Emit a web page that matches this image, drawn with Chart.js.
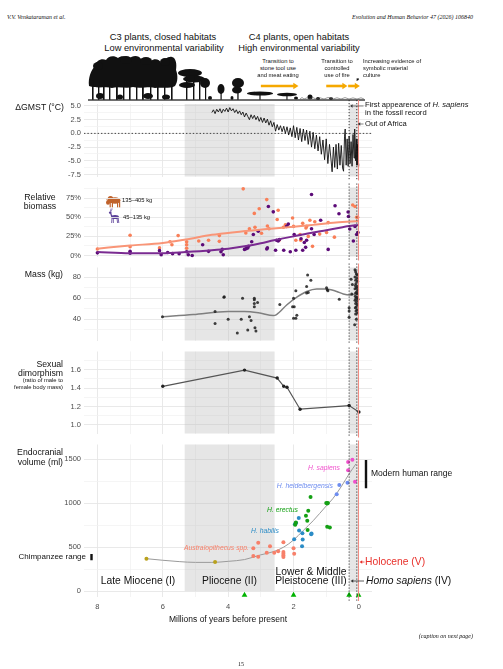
<!DOCTYPE html>
<html>
<head>
<meta charset="utf-8">
<script src="https://cdn.jsdelivr.net/npm/chart.js@4.4.0/dist/chart.umd.min.js"></script>
<style>
  body { margin: 0; background: #fff; }
  #page { position: relative; width: 503px; height: 669px; overflow: hidden; background: #fff;
          font-family: 'Liberation Sans', Arial, Helvetica, sans-serif; color: #111; }
  #page canvas { position: absolute; left: 0; z-index: 1; }
  #art { position: absolute; left: 0; top: 0; z-index: 0; }
  .t { position: absolute; white-space: nowrap; line-height: 1; z-index: 2; }
</style>
</head>
<body>
<div id="page">
  <!-- vegetation silhouette + legend animals (illustration only) -->
  <svg id="art" width="503" height="669" viewBox="0 0 503 669">
    <g fill="#111">
      <path d="M89,86 C88,78 91,70 95,66 C96,60 102,58 106,60 C108,56 114,55 118,58 C121,55 127,56 129,59
               C132,55 139,55 141,59 C145,57 150,58 151,61 C154,58 160,59 161,63 C164,60 168,56 172,57
               C176,58 177,64 176,70 C178,75 178,82 175,86 C170,89 160,87 155,88 C150,86 140,89 133,87
               C126,89 118,86 112,88 C106,86 98,89 89,86 Z"/>
      <ellipse cx="98" cy="66" rx="5" ry="4"/><ellipse cx="126" cy="60" rx="6" ry="4"/>
      <ellipse cx="146" cy="61" rx="6" ry="4"/><ellipse cx="165" cy="62" rx="5" ry="4"/>
      <rect x="92" y="80" width="1.6" height="20"/><rect x="98" y="80" width="1.4" height="20"/>
      <rect x="103" y="80" width="1.6" height="20"/><rect x="109" y="80" width="1.4" height="20"/>
      <rect x="116" y="80" width="1.8" height="20"/><rect x="123" y="80" width="1.4" height="20"/>
      <rect x="129" y="80" width="1.6" height="20"/><rect x="136" y="80" width="1.4" height="20"/>
      <rect x="142" y="80" width="1.8" height="20"/><rect x="150" y="80" width="1.4" height="20"/>
      <rect x="157" y="80" width="1.6" height="20"/><rect x="164" y="80" width="1.4" height="20"/>
      <rect x="171" y="76" width="1.6" height="24"/>
      <ellipse cx="100" cy="96" rx="4" ry="3"/><ellipse cx="120" cy="97" rx="3" ry="2.5"/>
      <ellipse cx="148" cy="96" rx="5" ry="3"/><ellipse cx="166" cy="97" rx="4" ry="2.5"/>
      <ellipse cx="190" cy="73" rx="12" ry="4"/><ellipse cx="194" cy="79" rx="11" ry="3.5"/>
      <ellipse cx="187" cy="85" rx="8" ry="3"/><ellipse cx="205" cy="83" rx="5" ry="5"/>
      <rect x="186" y="76" width="1.4" height="24"/><rect x="193" y="76" width="1.4" height="24"/>
      <rect x="199" y="80" width="1.4" height="20"/><rect x="205" y="84" width="1.2" height="16"/>
      <ellipse cx="221" cy="89" rx="3.5" ry="5"/><rect x="220.5" y="90" width="1.2" height="10"/>
      <ellipse cx="238" cy="83" rx="6" ry="5"/><ellipse cx="237" cy="90" rx="5" ry="3.5"/>
      <rect x="237.3" y="86" width="1.3" height="14"/>
      <ellipse cx="260" cy="93.5" rx="13" ry="2"/><rect x="259.4" y="93.5" width="1.2" height="6.5"/>
      <ellipse cx="287" cy="94.5" rx="10" ry="1.8"/><rect x="286.4" y="94.5" width="1.1" height="5.5"/>
      <ellipse cx="210" cy="98" rx="2" ry="2"/><ellipse cx="232" cy="98" rx="1.5" ry="2"/>
      <ellipse cx="296" cy="98" rx="2" ry="1.5"/><ellipse cx="310" cy="97" rx="2.5" ry="2.5"/>
      <ellipse cx="318" cy="98.5" rx="2" ry="1.5"/><ellipse cx="331" cy="98.6" rx="2" ry="1.3"/>
      <rect x="88" y="99.3" width="277" height="1.4" fill="#333"/>
    </g>
    <polyline fill="none" stroke="#555" stroke-width="0.6"
      points="300,99 302,97.5 304,99 307,97.8 309,99 313,97.6 316,99 320,97.8 324,99 328,97.5 333,99 337,97.8 341,99 345,97.6 349,99 353,97.9 357,99 361,97.8 364,99"/>
    <g fill="#c0622b">
      <ellipse cx="115" cy="200.5" rx="5.5" ry="3.3"/><ellipse cx="110.5" cy="199.5" rx="3" ry="3.6"/>
      <ellipse cx="108" cy="202.5" rx="2" ry="2.2"/>
      <rect x="109.6" y="202" width="1.2" height="6"/><rect x="111.8" y="202" width="1.2" height="6"/>
      <rect x="117" y="202" width="1.2" height="6"/><rect x="119" y="202" width="1.2" height="6"/>
      <path d="M107.2,201 L106,198.2 L107.8,200.4 Z"/>
    </g>
    <g fill="#5a3f98" stroke="#5a3f98">
      <ellipse cx="115" cy="217" rx="4" ry="2" stroke="none"/>
      <path d="M111.8,216.5 L110.6,213" stroke-width="1.2" fill="none"/>
      <ellipse cx="110.2" cy="212.8" rx="1.4" ry="1" stroke="none"/>
      <path d="M110,212 L111.2,208.3 M110.7,212 L112.4,208.6" stroke-width="0.6" fill="none"/>
      <path d="M112,218 L111.6,223 M113.3,218 L113.4,223 M117,218 L117.6,223 M118.2,218 L118.8,223" stroke-width="0.8" fill="none"/>
    </g>
  </svg>
</div>
<script>
// ---------------- data ----------------
// ages in millions of years before present
const xTicks = [0, 1, 2, 3, 4, 5, 6, 7, 8];
const xLabels = [0, 2, 4, 6, 8];

const greyBands = [[5.33, 2.58], [0.3, 0.0117]];      // Pliocene, Homo sapiens
const sapiensAge = 0.3;
const outOfAfricaAge = 0.065;
const holoceneAge = 0.0117;
const triangleAges = [3.5, 2.0, 0.3, 0.0117];
const toolArrows = [[3.0, 1.85], [1.0, 0.35], [0.33, -0.03]];

// Global mean surface temperature anomaly
const gmstTicks = [-7.5, -5, -2.5, 0, 2.5, 5];
const gmstMinor = [-6.25, -3.75, -1.25, 1.25, 3.75];
const gmst = [
  [4.50, 3.8], [4.45, 4.3], [4.40, 3.6], [4.35, 4.4], [4.30, 3.9], [4.25, 4.5], [4.20, 3.7],
  [4.15, 4.4], [4.10, 4.0], [4.05, 4.6], [4.00, 3.9], [3.95, 4.7], [3.90, 4.1], [3.85, 4.5],
  [3.80, 3.8], [3.75, 4.3], [3.70, 3.6], [3.65, 4.1], [3.60, 3.4], [3.55, 3.9], [3.50, 3.0],
  [3.45, 3.7], [3.40, 3.1], [3.35, 2.5], [3.30, 3.4], [3.25, 2.7], [3.20, 3.3], [3.15, 2.5],
  [3.10, 3.1], [3.05, 2.2], [3.00, 2.9], [2.95, 2.0], [2.90, 2.8], [2.85, 1.9], [2.80, 2.6],
  [2.75, 1.5], [2.70, 2.3], [2.65, 1.2], [2.60, 2.0], [2.55, 0.4], [2.50, 1.6], [2.45, 0.6],
  [2.40, 1.4], [2.35, 0.3], [2.30, 1.3], [2.25, 0.0], [2.20, 1.2], [2.15, -0.3], [2.10, 1.0],
  [2.05, -0.6], [2.00, 1.4], [1.95, -0.8], [1.90, 1.1], [1.85, -1.2], [1.80, 0.9], [1.75, -1.5],
  [1.70, 0.8], [1.65, -1.3], [1.60, 0.6], [1.55, -2.0], [1.50, 0.4], [1.45, -2.5], [1.40, 0.2],
  [1.35, -2.8], [1.30, -0.3], [1.25, -3.2], [1.20, -0.6], [1.15, -3.8], [1.10, -1.2], [1.05, -4.8],
  [1.00, -1.0], [0.95, -5.5], [0.90, -2.0], [0.85, -5.0], [0.82, -7.0], [0.78, -2.5], [0.74, -6.2],
  [0.70, -2.0], [0.66, -6.5], [0.62, -1.8], [0.58, -5.8], [0.54, -2.2], [0.50, -6.3], [0.47, -6.9],
  [0.44, -0.5], [0.42, 0.8], [0.39, -5.8], [0.36, -1.0], [0.33, -6.0], [0.30, -0.5], [0.27, -5.5],
  [0.24, -1.5], [0.21, -6.0], [0.18, -0.2], [0.15, -4.5], [0.13, 0.8], [0.10, -5.0], [0.08, -1.0],
  [0.06, -5.8], [0.04, -2.0], [0.02, -5.5], [0.01, -6.0]
];

// Relative biomass (%)
const biomassTicks = [0, 25, 50, 75];
const biomassMinor = [12.5, 37.5, 62.5, 87.5];
const biomassLarge = [
  [8.0, 8.5], [7.0, 26.5], [7.0, 11.5], [6.1, 10], [5.78, 18], [5.72, 14], [5.53, 26], [5.27, 18],
  [5.27, 14], [5.27, 9.5], [4.9, 19], [4.6, 20], [4.27, 26], [4.27, 18.5], [3.54, 87], [3.46, 29.5],
  [3.35, 35], [3.2, 55], [3.18, 37], [3.05, 61], [2.98, 29], [2.82, 73], [2.8, 38.5], [2.75, 35],
  [2.47, 59], [2.5, 47], [2.44, 20], [2.31, 37], [2.25, 40], [2.03, 49], [2.0, 38], [1.93, 20],
  [1.8, 27.5], [1.78, 20], [1.72, 42], [1.62, 36], [1.6, 38], [1.55, 25], [1.5, 46], [1.42, 12],
  [1.35, 44], [1.2, 28], [0.99, 30], [0.94, 43], [0.75, 24], [0.19, 66], [0.12, 64], [0.07, 50],
  [0.04, 50]
];
const biomassSmall = [
  [8.0, 3.5], [7.0, 5.5], [7.0, 3], [6.1, 6.4], [6.05, 1], [5.85, 4], [5.7, 2.5], [5.5, 2.5],
  [5.27, 5], [5.22, 1], [5.1, 0], [4.78, 14], [4.6, 5.5], [4.22, 5], [4.18, 8], [4.15, 1],
  [3.5, 8], [3.45, 9], [3.4, 10], [3.38, 12], [3.28, 18], [3.23, 27.5], [3.08, 31.7], [2.82, 8.5],
  [2.77, 64], [2.62, 57], [2.8, 10], [2.55, 7], [2.52, 20], [2.47, 19], [2.43, 21], [2.3, 7],
  [2.21, 38], [2.16, 41], [2.1, 5], [1.98, 27.5], [1.93, 7], [1.77, 22], [1.72, 7], [1.67, 17],
  [1.63, 10.7], [1.6, 20], [1.45, 79.6], [1.45, 35], [1.37, 27.5], [1.17, 46], [0.94, 8],
  [0.73, 65], [0.61, 54.6], [0.33, 56.7], [0.32, 51], [0.28, 34.6], [0.17, 19], [0.12, 38],
  [0.07, 27.5], [0.03, 30]
];
const biomassLargeTrend = [[8, 9], [7, 13], [6, 16.5], [5.3, 21], [4.5, 27], [3.8, 30.5], [2.8, 34.5],
  [2, 37.5], [1.4, 40], [0.7, 43], [0, 45]];
const biomassSmallTrend = [[8, 4.5], [7, 3], [6, 3], [5.3, 4.6], [4.5, 7], [4, 9], [3.5, 12], [3, 16],
  [2.6, 20], [2, 25], [1.4, 30], [1, 33], [0.5, 37], [0, 40]];

// Body mass (kg)
const massTicks = [40, 60, 80];
const massMinor = [30, 50, 70];
const massPoints = [
  [6.01, 42.5], [4.4, 47.5], [4.4, 36], [4.13, 61], [4.12, 61.5], [4.0, 40], [3.72, 27], [3.6, 40],
  [3.56, 60], [3.4, 30], [3.35, 42.5], [3.3, 39], [3.2, 60], [3.2, 58.5], [3.2, 55], [3.2, 52],
  [3.18, 32], [3.15, 29], [3.1, 56], [2.42, 54], [2.0, 60], [2.03, 52], [1.98, 52], [2.0, 41],
  [1.93, 41], [1.93, 67], [1.9, 44], [1.57, 82], [1.47, 77], [1.6, 71], [1.6, 65], [1.55, 65.5],
  [0.99, 70], [0.97, 68], [0.95, 67], [0.6, 59], [0.3, 51], [0.3, 48], [0.3, 42], [0.24, 78],
  [0.2, 73], [0.22, 64], [0.12, 87], [0.1, 85], [0.08, 83], [0.05, 82], [0.12, 80], [0.06, 79],
  [0.1, 77], [0.04, 76], [0.09, 74], [0.11, 72], [0.05, 71], [0.08, 70], [0.12, 69], [0.04, 68],
  [0.07, 66], [0.1, 65], [0.05, 64], [0.11, 62], [0.06, 61], [0.09, 60], [0.03, 59], [0.12, 58],
  [0.07, 57], [0.1, 55], [0.05, 54], [0.08, 52], [0.11, 51], [0.06, 49], [0.09, 48], [0.04, 46],
  [0.1, 45], [0.08, 40], [0.13, 35]
];
const massTrend = [[6.0, 42.5], [5.07, 44.5], [4.0, 47.5], [3.5, 47.5], [3.03, 46], [2.62, 43.6],
  [2.52, 44.5], [2.21, 53.6], [1.9, 61], [1.6, 66.4], [1.29, 68.8], [1.0, 68.8], [0.68, 66.4],
  [0.48, 64], [0.28, 63], [0.0, 65]];

// Sexual dimorphism (male / female body mass)
const dimorphTicks = [1.0, 1.2, 1.4, 1.6];
const dimorphMinor = [1.1, 1.3, 1.5, 1.7];
const dimorphPoints = [[6.0, 1.42], [3.5, 1.597], [2.5, 1.51], [2.3, 1.42], [2.2, 1.41],
  [1.8, 1.17], [0.3, 1.21], [0.0, 1.14]];

// Endocranial volume (ml)
const ecvTicks = [0, 500, 1000, 1500];
const ecvMinor = [250, 750, 1250];
const earlyHominins = [[6.5, 368], [4.4, 330]];
const australopiths = [[3.23, 488], [3.08, 548], [3.23, 398], [3.08, 390], [2.82, 436], [2.72, 510],
  [2.59, 436], [2.47, 453], [2.31, 555], [2.31, 443], [2.31, 425], [2.31, 405], [2.31, 387],
  [2.0, 488], [1.98, 424]];
const habilis = [[1.96, 760], [1.92, 775], [1.84, 830], [1.83, 690], [1.73, 657], [1.98, 590],
  [1.72, 585], [1.74, 510], [1.45, 655], [1.46, 645]];
const erectus = [[1.48, 1070], [1.0, 1000], [0.95, 1000], [0.97, 995], [1.55, 912], [1.62, 856],
  [1.58, 800], [1.93, 780], [1.95, 755], [1.57, 695], [0.97, 732], [0.89, 722]];
const heidelbergensis = [[0.6, 1205], [0.68, 1100], [0.35, 1231]];
const sapiens = [[0.33, 1467], [0.2, 1494], [0.33, 1373], [0.12, 1242]];
const ecvTrend = [[6.5, 368], [6, 350], [5.5, 335], [5, 326], [4.5, 326], [4, 338], [3.5, 358],
  [3, 412], [2.6, 450], [2.3, 500], [2, 580], [1.7, 690], [1.4, 800], [1.0, 968], [0.8, 1050],
  [0.53, 1194], [0.28, 1344], [0.09, 1446]];
const chimpRange = [350, 420];
const modernHumanRange = [1170, 1490];

// ---------------- layout ----------------
const PAGE_W = 503, AREA_L = 84, AREA_R = 372;
const X_MIN = -0.4, X_MAX = 8.41;
const BAND_FILL = 'rgba(180,180,180,0.33)';
const page = document.getElementById('page');
Chart.defaults.font.family = "'Liberation Sans', Arial, Helvetica, sans-serif";

const pts = arr => arr.map(([x, y]) => ({ x, y }));

function txt(html, x, y, o = {}) {
  const d = document.createElement('div');
  d.className = 't';
  d.innerHTML = html;
  d.style.left = x + 'px';
  d.style.top = y + 'px';
  d.style.fontSize = (o.size || 9) + 'px';
  const tx = o.align === 'right' ? '-100%' : o.align === 'center' ? '-50%' : '0';
  d.style.transform = `translate(${tx}, -50%)`;
  if (o.color) d.style.color = o.color;
  if (o.italic) d.style.fontStyle = 'italic';
  if (o.serif) d.style.fontFamily = "'Liberation Serif', 'DejaVu Serif', serif";
  page.appendChild(d);
}

function arrow(ctx, x1, y1, x2, y2, color, w, head, spread) {
  const ang = Math.atan2(y2 - y1, x2 - x1);
  ctx.save();
  ctx.setLineDash([]);
  ctx.strokeStyle = color; ctx.fillStyle = color; ctx.lineWidth = w;
  ctx.beginPath();
  ctx.moveTo(x1, y1);
  ctx.lineTo(x2 - Math.cos(ang) * head * 0.7, y2 - Math.sin(ang) * head * 0.7);
  ctx.stroke();
  ctx.beginPath();
  ctx.moveTo(x2, y2);
  ctx.lineTo(x2 - head * Math.cos(ang - spread), y2 - head * Math.sin(ang - spread));
  ctx.lineTo(x2 - head * Math.cos(ang + spread), y2 - head * Math.sin(ang + spread));
  ctx.closePath();
  ctx.fill();
  ctx.restore();
}

// grey bands, zero line, event lines for one panel
function overlay(opt) {
  return {
    id: 'overlay',
    beforeDatasetsDraw(chart) {
      const { ctx, chartArea: a, scales: { x, y } } = chart;
      const bottom = opt.floor !== undefined ? y.getPixelForValue(opt.floor) : a.bottom;
      ctx.save();
      ctx.fillStyle = BAND_FILL;
      greyBands.forEach(([from, to]) => {
        const x1 = x.getPixelForValue(from), x2 = x.getPixelForValue(to);
        ctx.fillRect(x1, a.top, x2 - x1, bottom - a.top);
      });
      if (opt.zero) {
        const yz = y.getPixelForValue(0);
        ctx.strokeStyle = '#333'; ctx.lineWidth = 0.9; ctx.setLineDash([1.4, 2]);
        ctx.beginPath(); ctx.moveTo(a.left, yz); ctx.lineTo(a.right, yz); ctx.stroke();
      }
      ctx.restore();
    },
    afterDatasetsDraw(chart) {
      const { ctx, chartArea: a, scales: { x } } = chart;
      const top = a.top - 4, bot = a.bottom + 4;
      ctx.save();
      ctx.strokeStyle = '#222'; ctx.lineWidth = 0.9; ctx.setLineDash([1.2, 1.8]);
      [sapiensAge, outOfAfricaAge].forEach(age => {
        const px = x.getPixelForValue(age);
        ctx.beginPath(); ctx.moveTo(px, top); ctx.lineTo(px, bot); ctx.stroke();
      });
      ctx.setLineDash([]);
      ctx.strokeStyle = '#f28a80'; ctx.lineWidth = 1;
      const hx = x.getPixelForValue(holoceneAge);
      ctx.beginPath(); ctx.moveTo(hx, top); ctx.lineTo(hx, bot); ctx.stroke();
      ctx.restore();
      if (opt.extra) opt.extra(chart);
    }
  };
}

function panel(p) {
  const padTop = p.padTop || 6, padBottom = 6;
  const xh = p.showX ? 14 : 0;
  const height = padTop + (p.bottom - p.top) + xh + padBottom;
  const c = document.createElement('canvas');
  c.width = PAGE_W; c.height = height;
  c.style.top = (p.top - padTop) + 'px';
  page.appendChild(c);
  const majorY = new Set(p.ticks);
  const majorX = new Set(xLabels);
  const tickFont = { size: 7.5 };
  return new Chart(c, {
    type: 'scatter',
    data: { datasets: p.datasets },
    options: {
      responsive: false,
      animation: false,
      events: [],
      layout: { padding: { top: padTop, bottom: padBottom, left: 0, right: PAGE_W - AREA_R } },
      plugins: { legend: { display: false }, tooltip: { enabled: false } },
      scales: {
        x: {
          type: 'linear', reverse: true, min: X_MIN, max: X_MAX,
          afterBuildTicks: s => { s.ticks = xTicks.map(v => ({ value: v })); },
          afterFit: s => { s.height = xh; },
          ticks: {
            display: !!p.showX, autoSkip: false, maxRotation: 0, padding: 5,
            font: tickFont, color: '#4d4d4d',
            callback: v => majorX.has(v) ? String(v) : ''
          },
          grid: {
            drawTicks: false,
            color: ctx => ctx.tick && majorX.has(ctx.tick.value) ? '#e6e6e6' : '#efefef',
            lineWidth: ctx => ctx.tick && majorX.has(ctx.tick.value) ? 0.9 : 0.7
          },
          border: { display: false }
        },
        y: {
          type: 'linear', min: p.min, max: p.max,
          afterBuildTicks: s => { s.ticks = p.ticks.concat(p.minor).sort((a, b) => a - b).map(v => ({ value: v })); },
          afterFit: s => { s.width = AREA_L; },
          ticks: {
            autoSkip: false, padding: 3, font: tickFont, color: '#4d4d4d',
            callback: v => majorY.has(v) ? p.fmt(v) : ''
          },
          grid: {
            drawTicks: false,
            color: ctx => ctx.tick && majorY.has(ctx.tick.value) ? '#e6e6e6' : '#f0f0f0',
            lineWidth: ctx => ctx.tick && majorY.has(ctx.tick.value) ? 0.9 : 0.7
          },
          border: { display: false }
        }
      }
    },
    plugins: [overlay({ zero: p.zero, floor: p.floor, extra: p.extra })]
  });
}

function scatterSet(data, color, r) {
  return { data: pts(data), backgroundColor: color, borderWidth: 0, pointRadius: r, clip: false };
}
function lineSet(data, color, w) {
  return { data: pts(data), showLine: true, borderColor: color, borderWidth: w, pointRadius: 0,
           cubicInterpolationMode: 'monotone', fill: false, clip: false };
}

// ---------------- panels ----------------
const GMST_TOP = 104;
panel({
  top: GMST_TOP, bottom: 178, padTop: 26, min: -7.857, max: 5.357,
  ticks: gmstTicks, minor: gmstMinor, fmt: v => v.toFixed(1), zero: true,
  datasets: [{ data: pts(gmst), showLine: true, borderColor: '#111', borderWidth: 0.9,
               pointRadius: 0, tension: 0, clip: false }],
  extra(chart) {
    const { ctx, scales: { x } } = chart;
    const top = GMST_TOP - 26;               // canvas offset on the page
    toolArrows.forEach(([from, to]) => {
      arrow(ctx, x.getPixelForValue(from), 86 - top, x.getPixelForValue(to), 86 - top,
            '#f5a800', 2.6, 6, 0.55);
    });
    arrow(ctx, 362, 73 - top, 356.5, 81 - top, '#111', 0.7, 3, 0.5);
    arrow(ctx, 363.5, 106 - top, x.getPixelForValue(sapiensAge) + 1, 106 - top, '#333', 0.6, 3, 0.6);
    arrow(ctx, 363.5, 124 - top, x.getPixelForValue(outOfAfricaAge) + 1, 124 - top, '#333', 0.6, 3, 0.6);
  }
});

panel({
  top: 186, bottom: 258, min: -1.25, max: 88.75,
  ticks: biomassTicks, minor: biomassMinor, fmt: v => v + '%',
  datasets: [
    lineSet(biomassSmallTrend, '#7a2b91', 2),
    lineSet(biomassLargeTrend, '#f99577', 2),
    scatterSet(biomassSmall, '#5c0b78', 1.8),
    scatterSet(biomassLarge, '#f97f58', 1.8)
  ]
});

panel({
  top: 266, bottom: 342, min: 20, max: 89.1,
  ticks: massTicks, minor: massMinor, fmt: v => String(v),
  datasets: [
    scatterSet(massPoints, 'rgba(30,30,30,0.85)', 1.5),
    lineSet(massTrend, '#7f7f7f', 1.5)
  ]
});

panel({
  top: 350, bottom: 435, min: 0.905, max: 1.8,
  ticks: dimorphTicks, minor: dimorphMinor, fmt: v => v.toFixed(1),
  datasets: [{ data: pts(dimorphPoints), showLine: true, borderColor: '#555', borderWidth: 1.2,
               pointRadius: 1.7, pointBackgroundColor: '#222', pointBorderWidth: 0, tension: 0, clip: false }]
});

const ECV_TOP = 443;
panel({
  top: ECV_TOP, bottom: 597, min: -67.6, max: 1666.7, showX: true, floor: 0,
  ticks: ecvTicks, minor: ecvMinor, fmt: v => String(v),
  datasets: [
    { data: triangleAges.map(a => ({ x: a, y: -45 })), pointStyle: 'triangle', pointRadius: 3.3,
      backgroundColor: '#00b300', borderWidth: 0, clip: false },
    scatterSet(sapiens, '#f050cc', 2),
    scatterSet(heidelbergensis, '#6e8df0', 2),
    scatterSet(erectus, '#14a014', 2),
    scatterSet(habilis, '#2b8cc6', 2),
    scatterSet(australopiths, '#f7806a', 2),
    scatterSet(earlyHominins, '#b9a11c', 2),
    lineSet(ecvTrend, '#9a9a9a', 1)
  ],
  extra(chart) {
    const { ctx, scales: { x, y } } = chart;
    const top = ECV_TOP - 6;
    ctx.save();
    ctx.strokeStyle = '#111'; ctx.lineWidth = 2.4;
    ctx.beginPath();
    ctx.moveTo(366, y.getPixelForValue(modernHumanRange[0]));
    ctx.lineTo(366, y.getPixelForValue(modernHumanRange[1]));
    ctx.moveTo(91.5, y.getPixelForValue(chimpRange[0]));
    ctx.lineTo(91.5, y.getPixelForValue(chimpRange[1]));
    ctx.stroke();
    ctx.restore();
    arrow(ctx, 364.5, 562 - top, x.getPixelForValue(holoceneAge) + 1, 562 - top, '#e8302a', 0.8, 3.2, 0.6);
    arrow(ctx, 364, 581 - top, x.getPixelForValue(sapiensAge) + 1.5, 581 - top, '#333', 0.8, 3.2, 0.6);
  }
});

// ---------------- text ----------------
txt('V.V. Venkataraman et al.', 7, 17, { size: 6, italic: true, serif: true });
txt('Evolution and Human Behavior 47 (2026) 106840', 473, 17, { size: 6, italic: true, serif: true, align: 'right' });

txt('C3 plants, closed habitats', 163, 37.5, { size: 9.3, align: 'center' });
txt('Low environmental variability', 164, 48.5, { size: 9.3, align: 'center' });
txt('C4 plants, open habitats', 299, 37.5, { size: 9.3, align: 'center' });
txt('High environmental variability', 299, 48.5, { size: 9.3, align: 'center' });

[['Transition to', 'stone tool use', 'and meat eating'], ['Transition to', 'controlled', 'use of fire']]
  .forEach((lines, i) => lines.forEach((s, j) => txt(s, i ? 337 : 278, 62 + j * 7, { size: 5.8, align: 'center' })));
['Increasing evidence of', 'symbolic material', 'culture'].forEach((s, j) => txt(s, 363, 62 + j * 7, { size: 5.8 }));

txt('First appearence of <i>H. sapiens</i>', 365, 104.5, { size: 7.6 });
txt('in the fossil record', 365, 112.5, { size: 7.6 });
txt('Out of Africa', 365, 124, { size: 7.6 });

txt('ΔGMST (°C)', 64, 106.5, { size: 8.7, align: 'right' });
txt('Relative', 40, 196.5, { size: 8.7, align: 'center' });
txt('biomass', 40, 206, { size: 8.7, align: 'center' });
txt('135–405 kg', 122, 200.5, { size: 5.8 });
txt('45–135 kg', 123, 217.5, { size: 5.8 });
txt('Mass (kg)', 63, 274, { size: 8.7, align: 'right' });
txt('Sexual', 63, 364, { size: 8.7, align: 'right' });
txt('dimorphism', 63, 372.5, { size: 8.7, align: 'right' });
txt('(ratio of male to', 63, 381, { size: 5.8, align: 'right' });
txt('female body mass)', 63, 387.5, { size: 5.8, align: 'right' });
txt('Endocranial', 63, 452, { size: 8.7, align: 'right' });
txt('volume (ml)', 63, 462, { size: 8.7, align: 'right' });

txt('H. sapiens', 340, 468, { size: 6.8, italic: true, color: '#f050cc', align: 'right' });
txt('H. heidelbergensis', 333, 485.5, { size: 6.8, italic: true, color: '#6e8df0', align: 'right' });
txt('H. erectus', 298, 510, { size: 6.8, italic: true, color: '#14a014', align: 'right' });
txt('H. habilis', 279, 530.5, { size: 6.8, italic: true, color: '#2b8cc6', align: 'right' });
txt('Australopithecus spp.', 249, 547.5, { size: 6.8, italic: true, color: '#f7806a', align: 'right' });

txt('Modern human range', 371, 473, { size: 8.5 });
txt('Chimpanzee range', 86, 556.5, { size: 8, align: 'right' });
txt('Holocene (V)', 365, 562, { size: 10.3, color: '#e8302a' });
txt('<i>Homo sapiens</i> (IV)', 366, 581, { size: 10.3 });
txt('Late Miocene (I)', 138, 581, { size: 10.3, align: 'center' });
txt('Pliocene (II)', 229.5, 581, { size: 10.3, align: 'center' });
txt('Lower &amp; Middle', 311, 571.5, { size: 10.3, align: 'center' });
txt('Pleistocene (III)', 311, 581, { size: 10.3, align: 'center' });

txt('Millions of years before present', 228, 619, { size: 8.5, align: 'center' });
txt('(caption on next page)', 473, 636, { size: 6, italic: true, serif: true, align: 'right' });
txt('15', 241, 664, { size: 6, serif: true, align: 'center' });
</script>
</body>
</html>
